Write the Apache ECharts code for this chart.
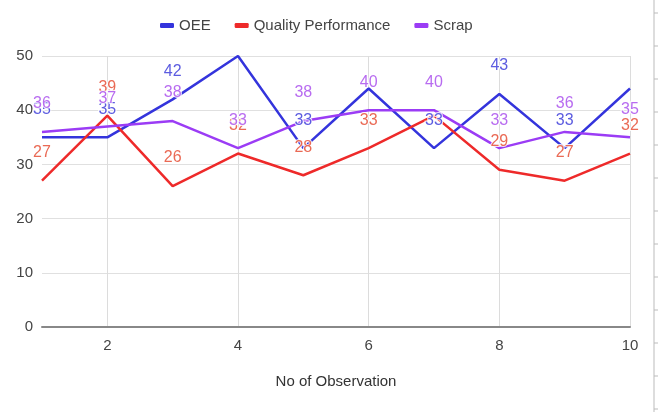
<!DOCTYPE html>
<html>
<head>
<meta charset="utf-8">
<script src="https://cdn.jsdelivr.net/npm/echarts@6/dist/echarts.min.js"></script>
<style>
  html, body { margin: 0; padding: 0; background: #fff; }
  #chart { width: 660px; height: 412px; }
</style>
</head>
<body>
<div id="chart"></div>
<script>
// Observation numbers along the x axis
const observations = ['1', '2', '3', '4', '5', '6', '7', '8', '9', '10'];

// Series values per observation
const oee = [35, 35, 42, 50, 33, 44, 33, 43, 33, 44];
const qualityPerformance = [27, 39, 26, 32, 28, 33, 39, 29, 27, 32];
const scrap = [36, 37, 38, 33, 38, 40, 40, 33, 36, 35];

// Observations whose value label is left off, per series
const oeeUnlabelled = [3, 5, 9];
const qualityUnlabelled = [6];

const FONT = '"Liberation Sans", Arial, sans-serif';

function seriesData(values, skip) {
  return values.map((v, i) => skip && skip.includes(i) ? { value: v, label: { show: false } } : v);
}

function lineSeries(name, values, lineColor, labelColor, skip) {
  return {
    name: name,
    type: 'line',
    data: seriesData(values, skip),
    symbol: 'circle',
    symbolSize: 0,
    showSymbol: true,
    color: lineColor,
    lineStyle: { width: 2.5, color: lineColor },
    label: {
      show: true,
      position: 'top',
      distance: 20,
      color: labelColor,
      fontFamily: FONT,
      fontSize: 16,
      textBorderColor: 'rgba(255,255,255,0.85)',
      textBorderWidth: 2
    },
    emphasis: { disabled: true }
  };
}

// Thin rule with ticks along the right edge
const edgeTicks = [];
for (let y = 13; y < 412; y += 33) {
  edgeTicks.push({ type: 'line', shape: { x1: 654, y1: y, x2: 658, y2: y }, style: { stroke: '#bbb', lineWidth: 1 } });
}

const chart = echarts.init(document.getElementById('chart'), null, { renderer: 'canvas' });
chart.setOption({
  animation: false,
  backgroundColor: '#fff',
  textStyle: { fontFamily: FONT },
  legend: {
    top: 13,
    left: 155,
    itemWidth: 14,
    itemHeight: 5,
    itemGap: 24,
    icon: 'roundRect',
    textStyle: { fontFamily: FONT, fontSize: 15, color: '#444' },
    data: ['OEE', 'Quality Performance', 'Scrap']
  },
  grid: { left: 42, right: 30, top: 56, bottom: 85, containLabel: false },
  xAxis: {
    type: 'category',
    data: observations,
    boundaryGap: false,
    name: 'No of Observation',
    nameLocation: 'middle',
    nameGap: 47,
    nameTextStyle: { fontFamily: FONT, fontSize: 15, color: '#333' },
    axisLine: { show: true, lineStyle: { color: '#888', width: 2 } },
    axisTick: { show: false },
    axisLabel: {
      interval: (i) => i % 2 === 1,
      margin: 11,
      fontFamily: FONT,
      fontSize: 15,
      color: '#444'
    },
    splitLine: {
      show: true,
      interval: (i) => i % 2 === 1,
      lineStyle: { color: '#dcdcdc', width: 1 }
    }
  },
  yAxis: {
    type: 'value',
    min: 0,
    max: 50,
    interval: 10,
    axisLine: { show: false },
    axisTick: { show: false },
    axisLabel: { margin: 9, fontFamily: FONT, fontSize: 15, color: '#444' },
    splitLine: { lineStyle: { color: '#e0e0e0', width: 1 } }
  },
  series: [
    lineSeries('OEE', oee, '#3434dc', '#5c5ce0', oeeUnlabelled),
    lineSeries('Quality Performance', qualityPerformance, '#ee2a2a', '#ea6a55', qualityUnlabelled),
    lineSeries('Scrap', scrap, '#9b3cf5', '#b86cf0')
  ],
  graphic: [
    { type: 'line', shape: { x1: 654, y1: 0, x2: 654, y2: 412 }, style: { stroke: '#bbb', lineWidth: 1 } }
  ].concat(edgeTicks)
});
</script>
</body>
</html>
